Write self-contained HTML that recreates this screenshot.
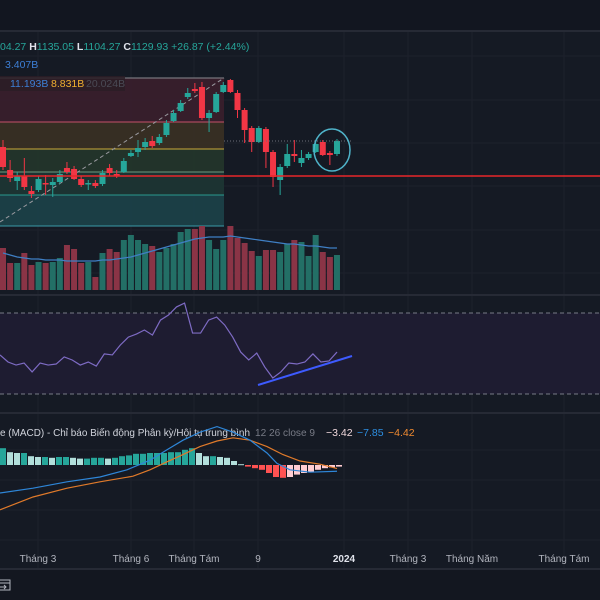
<!DOCTYPE html>
<html><head><meta charset="utf-8">
<style>
html,body{margin:0;padding:0;background:#141821;}
body{width:600px;height:600px;overflow:hidden;font-family:"Liberation Sans","Noto Sans CJK SC",sans-serif;}
svg{display:block;}
text{font-family:"Liberation Sans","Noto Sans CJK SC",sans-serif;}
</style></head>
<body>
<svg id="chart" width="600" height="600" viewBox="0 0 600 600">
  <rect x="0" y="0" width="600" height="600" fill="#151a24"/>
  <rect x="0" y="0" width="600" height="30" fill="#121620"/>
  <line x1="0" y1="31" x2="600" y2="31" stroke="#262a35" stroke-width="2"/>
  <g id="grid"></g>
  <g>
    <rect x="0" y="78" width="224" height="44" fill="#3a1f2c" opacity="0.9"/>
    <rect x="0" y="122" width="224" height="27" fill="#3a3124" opacity="0.9"/>
    <rect x="0" y="149" width="224" height="23" fill="#23362b" opacity="0.9"/>
    <rect x="0" y="172" width="224" height="23" fill="#1c3534" opacity="0.95"/>
    <rect x="0" y="195" width="224" height="31" fill="#1b4048" opacity="0.95"/>
    <line x1="0" y1="78" x2="224" y2="78" stroke="#8a8a90" stroke-width="1"/>
    <line x1="0" y1="122" x2="224" y2="122" stroke="#c4506a" stroke-width="1"/>
    <line x1="0" y1="149" x2="224" y2="149" stroke="#c9a93a" stroke-width="1"/>
    <line x1="0" y1="172" x2="224" y2="172" stroke="#6f9a80" stroke-width="1"/>
    <line x1="0" y1="195" x2="224" y2="195" stroke="#2a9a8e" stroke-width="1"/>
    <line x1="0" y1="226" x2="224" y2="226" stroke="#3a9aa8" stroke-width="1"/>
    <line x1="0" y1="222" x2="224" y2="78" stroke="#9a9aa0" stroke-width="1" stroke-dasharray="4,3"/>
  </g>
  <g id="volume"></g>
  <g id="candles"></g>
  <line id="support" x1="0" x2="600" stroke="#e8262a" stroke-width="1.5"/>
  <line id="lastline" x1="224" x2="352" stroke="#6a6e78" stroke-width="1" stroke-dasharray="1,2"/>
  <ellipse cx="332" cy="150" rx="18" ry="21" fill="none" stroke="#4fb3c9" stroke-width="1.5"/>
  <g font-size="10.5">
    <text x="0" y="50" fill="#26a69a">04.27 <tspan fill="#e0e3eb" font-weight="bold">H</tspan>1135.05 <tspan fill="#e0e3eb" font-weight="bold">L</tspan>1104.27 <tspan fill="#e0e3eb" font-weight="bold">C</tspan>1129.93 +26.87 (+2.44%)</text>
    <text x="5" y="68" fill="#3d7fd6">3.407B</text>
    <rect x="0" y="76" width="125" height="15" fill="#2a1d26" opacity="0.85"/>
    <text x="10" y="87" fill="#3d7fd6">11.193B</text>
    <text x="51" y="87" fill="#f0b030">8.831B</text>
    <text x="86" y="87" fill="#4a4a55">20.024B</text>
  </g>
  <line x1="0" y1="295" x2="600" y2="295" stroke="#262a35" stroke-width="2"/>
  <g>
    <rect id="rsiband" x="0" width="600" fill="#1e1c31"/>
    <line id="rsi70" x1="0" x2="600" stroke="#787b86" stroke-dasharray="4,3"/>
    <line id="rsi30" x1="0" x2="600" stroke="#787b86" stroke-dasharray="4,3"/>
    <polyline id="rsiline" fill="none" stroke="#7e6bc4" stroke-width="1.2"/>
    <line x1="258" y1="385" x2="352" y2="356" stroke="#3d5afe" stroke-width="2"/>
  </g>
  <line x1="0" y1="413" x2="600" y2="413" stroke="#262a35" stroke-width="2"/>
  <g font-size="10.5">
    <text x="0" y="436" fill="#d1d4dc" textLength="250" lengthAdjust="spacingAndGlyphs">e (MACD) - Chỉ báo Biến động Phân kỳ/Hội tụ trung bình</text>
    <text x="255" y="436" fill="#787b86" textLength="60" lengthAdjust="spacingAndGlyphs">12 26 close 9</text>
    <text x="326" y="436" fill="#f0d8dc">−3.42</text>
    <text x="357" y="436" fill="#2d8ee0">−7.85</text>
    <text x="388" y="436" fill="#f08a30">−4.42</text>
  </g>
  <g id="macdhist"></g>
  <polyline id="signalline" fill="none" stroke="#e07a2a" stroke-width="1.2"/>
  <polyline id="macdline" fill="none" stroke="#2e86d8" stroke-width="1.2"/>
  <line x1="0" y1="569" x2="600" y2="569" stroke="#262a35" stroke-width="2"/>
  <g id="timeaxis" font-size="10" fill="#b2b5be" text-anchor="middle"></g>
  <rect x="0" y="570" width="600" height="30" fill="#131720"/>
  <g stroke="#b2b5be" fill="none" stroke-width="1">
    <rect x="-2" y="580" width="12" height="10"/>
    <line x1="-2" y1="583" x2="10" y2="583"/>
    <line x1="0" y1="587" x2="6" y2="587"/>
    <polyline points="4,585 6,587 4,589"/>
  </g>
</svg>
<script>
const opens  = [1103,1080,1069,1074,1059,1060,1067,1065,1068,1082,1081,1071,1066,1067,1066,1082,1076,1078,1094,1098,1103,1109,1107,1115,1129,1139,1153,1161,1163,1132,1138,1158,1170,1157,1140,1122,1108,1121,1098,1070,1084,1096,1087,1092,1098,1108,1097,1096];
const highs  = [1110,1090,1078,1092,1064,1074,1075,1072,1080,1088,1084,1074,1070,1070,1080,1086,1080,1092,1100,1110,1112,1114,1116,1130,1140,1150,1162,1167,1168,1140,1158,1168,1171,1160,1142,1124,1124,1123,1100,1086,1106,1110,1100,1098,1110,1110,1099,1111];
const lows   = [1080,1068,1060,1060,1052,1058,1055,1053,1066,1076,1070,1063,1060,1062,1064,1074,1072,1077,1093,1093,1100,1102,1105,1113,1128,1138,1151,1157,1130,1118,1137,1157,1157,1132,1107,1098,1107,1082,1063,1055,1082,1088,1083,1090,1097,1094,1085,1094];
const closes = [1083,1072,1074,1063,1056,1071,1066,1068,1076,1078,1071,1065,1067,1064,1077,1077,1074,1089,1097,1102,1108,1104,1113,1127,1137,1147,1157,1159,1132,1137,1156,1165,1158,1140,1120,1108,1122,1098,1073,1083,1096,1094,1092,1096,1106,1095,1095,1109];
const volumes = [42,27,27,37,25,28,27,28,32,45,41,27,28,13,37,41,38,50,55,50,46,44,38,42,46,58,61,61,64,50,41,50,64,52,47,39,34,40,40,38,46,50,48,34,55,38,33,35];
const volumeMA = [37,35,33,32,31,31,30,30,30,29,29,29,29,29,30,30,31,32,33,35,37,39,41,43,45,47,49,51,52,53,53,53,54,53,52,51,50,49,48,47,46,46,45,44,44,43,42,42];
const supportPrice = 1074;
const lastPrice = 1109;
const rsiValues = [49.3,45.8,44.3,45.3,40.9,45.3,44.3,44.8,48.3,46.8,44.3,45.8,43.8,49.8,49.3,54.2,58.1,59.6,61.6,59.1,66.5,69,73,74.9,60.1,60.1,66.5,68,64.1,58.1,50.7,46.8,50.2,43.3,37.9,40.9,45.3,44.8,45.8,49.8,45.8,46.3,50.7];
const macdHist = [21,16,15,15,11,10,10,9,10,10,9,8,8,9,9,8,9,11,12,14,14,15,15,15,16,16,19,21,15,11,11,10,9,5,1,-2,-4,-6,-10,-15,-16,-15,-12,-10,-9,-6,-4,-3,-2];
const macdX = [0,33,67,100,127,150,167,183,200,217,233,250,267,277,290,310,337];
const macdLine = [-35,-29,-21,-15,-6,6,19,31,41,48,41,31,15,2,-6,-9,-7.85];
const signalX = [0,33,67,100,133,150,167,183,200,217,233,250,267,283,300,320,337];
const signalLine = [-56,-40,-29,-21,-14,-6,4,13,23,30,34,31,23,13,5,1,-4.42];
const timeLabels = ["Tháng 3","Tháng 6","Tháng Tám","9","2024","Tháng 3","Tháng Năm","Tháng Tám"];
const timeLabelX = [38,131,194,258,344,408,472,564];

const NS = "http://www.w3.org/2000/svg";
const xIdx = i => 3 + i * 7.106;
const yPrice = p => 1250 - p;
const volBase = 290, volK = 1.0;
const yVol = v => volBase - v * volK;
const rsiTop = 313, rsiBot = 394;
const yRsi = r => rsiTop + (70 - r) * (rsiBot - rsiTop) / 40;
const xRsi = i => i * 337 / (rsiValues.length - 1);
const macdZero = 465, macdK = 0.8;
const yMacd = v => macdZero - v * macdK;
const xHist = i => 3 + i * 7.0;

function mk(tag, attrs, parent){
  const e = document.createElementNS(NS, tag);
  for (const k in attrs) e.setAttribute(k, attrs[k]);
  parent.appendChild(e);
  return e;
}

const grid = document.getElementById('grid');
[38,131,194,258,344,408,472,564].forEach(x=>{
  const l = mk('line',{x1:x,x2:x,y1:32,y2:569,stroke:'#1d212c','stroke-width':1},grid);
  
  
});
[56,100,143,186,230,273,340,367,450,480,510,540].forEach(y=>{
  const l = mk('line',{x1:0,x2:600,y1:y,y2:y,stroke:'#1d212c','stroke-width':1},grid);
  
  
});

const vg = document.getElementById('volume');
volumes.forEach((v,i)=>{
  const up = closes[i] >= opens[i];
  const r = mk('rect',{x:xIdx(i)-3,y:yVol(v),width:6,height:volBase-yVol(v),fill: up ? '#236f66' : '#8a3446'},vg);
  
  
});
const vma = mk('polyline',{fill:'none',stroke:'#3f7fc4','stroke-width':1.2,points: volumeMA.map((v,i)=>xIdx(i)+','+yVol(v)).join(' ')},vg);



const cg = document.getElementById('candles');
opens.forEach((o,i)=>{
  const c = closes[i], up = c >= o, col = up ? '#26a69a' : '#f23645';
  const x = xIdx(i);
  const w = mk('line',{x1:x,x2:x,y1:yPrice(highs[i]),y2:yPrice(lows[i]),stroke:col,'stroke-width':1},cg);
  
  
  const top = yPrice(Math.max(o,c)), h = Math.max(1.5, Math.abs(yPrice(o)-yPrice(c)));
  const b = mk('rect',{x:x-3,y:top,width:6,height:h,fill:col},cg);
  
  
});
const sup = document.getElementById('support');
sup.setAttribute('y1', yPrice(supportPrice)); sup.setAttribute('y2', yPrice(supportPrice));
const ll = document.getElementById('lastline');
ll.setAttribute('y1', yPrice(lastPrice)); ll.setAttribute('y2', yPrice(lastPrice));

const band = document.getElementById('rsiband');
band.setAttribute('y', yRsi(70)); band.setAttribute('height', yRsi(30)-yRsi(70));
['rsi70','rsi30'].forEach((id,k)=>{
  const e = document.getElementById(id); const y = yRsi(k ? 30 : 70);
  e.setAttribute('y1', y); e.setAttribute('y2', y);
});
document.getElementById('rsiline').setAttribute('points', rsiValues.map((r,i)=>xRsi(i)+','+yRsi(r)).join(' '));

const hg = document.getElementById('macdhist');
macdHist.forEach((v,i)=>{
  const prev = i>0 ? macdHist[i-1] : v;
  let col;
  if (v >= 0) col = v >= prev ? '#26a69a' : '#b2dfdb';
  else col = v <= prev ? '#ff5252' : '#ffcdd2';
  const y = Math.min(yMacd(v), macdZero), h = Math.max(1, Math.abs(yMacd(v)-macdZero));
  const r = mk('rect',{x:xHist(i)-3,y:y,width:6,height:h,fill:col},hg);
  
  
});
document.getElementById('macdline').setAttribute('points', macdLine.map((v,i)=>macdX[i]+','+yMacd(v)).join(' '));
document.getElementById('signalline').setAttribute('points', signalLine.map((v,i)=>signalX[i]+','+yMacd(v)).join(' '));

const ta = document.getElementById('timeaxis');
timeLabels.forEach((t,i)=>{
  const e = mk('text',{x:timeLabelX[i],y:562},ta);
  e.textContent = t;
  if (t === '2024'){ e.setAttribute('font-weight','bold'); e.setAttribute('fill','#e0e3eb'); }
  
  
});
</script>
</body></html>
